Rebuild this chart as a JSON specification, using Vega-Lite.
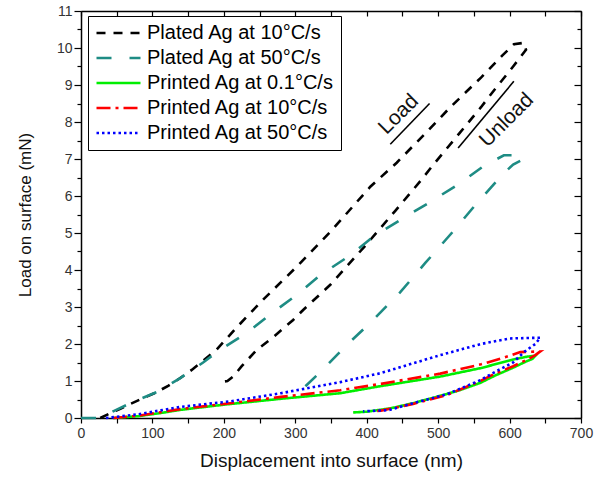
{
  "$schema": "https://vega.github.io/schema/vega-lite/v6.json",
  "width": 500,
  "height": 407,
  "autosize": {"type": "none"},
  "padding": {"left": 81, "top": 11, "right": 15, "bottom": 67},
  "config": {"font": "Liberation Sans", "view": {"stroke": null}},
  "datasets": {
    "curves": [
      {"s": "Plated Ag at 10°C/s", "i": 1, "x": 27, "y": 0},
      {"s": "Plated Ag at 10°C/s", "i": 2, "x": 40, "y": 0.12},
      {"s": "Plated Ag at 10°C/s", "i": 3, "x": 55, "y": 0.25},
      {"s": "Plated Ag at 10°C/s", "i": 4, "x": 69, "y": 0.38},
      {"s": "Plated Ag at 10°C/s", "i": 5, "x": 85, "y": 0.52},
      {"s": "Plated Ag at 10°C/s", "i": 6, "x": 106, "y": 0.7},
      {"s": "Plated Ag at 10°C/s", "i": 7, "x": 122, "y": 0.87},
      {"s": "Plated Ag at 10°C/s", "i": 8, "x": 139, "y": 1.08},
      {"s": "Plated Ag at 10°C/s", "i": 9, "x": 155, "y": 1.3},
      {"s": "Plated Ag at 10°C/s", "i": 10, "x": 171, "y": 1.55},
      {"s": "Plated Ag at 10°C/s", "i": 11, "x": 190, "y": 1.85},
      {"s": "Plated Ag at 10°C/s", "i": 12, "x": 218, "y": 2.45},
      {"s": "Plated Ag at 10°C/s", "i": 13, "x": 255, "y": 3.2},
      {"s": "Plated Ag at 10°C/s", "i": 14, "x": 300, "y": 4.05},
      {"s": "Plated Ag at 10°C/s", "i": 15, "x": 350, "y": 5.05},
      {"s": "Plated Ag at 10°C/s", "i": 16, "x": 405, "y": 6.25},
      {"s": "Plated Ag at 10°C/s", "i": 17, "x": 442, "y": 6.9},
      {"s": "Plated Ag at 10°C/s", "i": 18, "x": 480, "y": 7.65},
      {"s": "Plated Ag at 10°C/s", "i": 19, "x": 517, "y": 8.4},
      {"s": "Plated Ag at 10°C/s", "i": 20, "x": 560, "y": 9.2},
      {"s": "Plated Ag at 10°C/s", "i": 21, "x": 590, "y": 9.8},
      {"s": "Plated Ag at 10°C/s", "i": 22, "x": 606, "y": 10.1},
      {"s": "Plated Ag at 10°C/s", "i": 23, "x": 620, "y": 10.14},
      {"s": "Plated Ag at 10°C/s", "i": 24, "x": 623, "y": 9.95},
      {"s": "Plated Ag at 10°C/s", "i": 25, "x": 605, "y": 9.5},
      {"s": "Plated Ag at 10°C/s", "i": 26, "x": 580, "y": 8.9},
      {"s": "Plated Ag at 10°C/s", "i": 27, "x": 560, "y": 8.4},
      {"s": "Plated Ag at 10°C/s", "i": 28, "x": 530, "y": 7.7},
      {"s": "Plated Ag at 10°C/s", "i": 29, "x": 493, "y": 6.84},
      {"s": "Plated Ag at 10°C/s", "i": 30, "x": 475, "y": 6.4},
      {"s": "Plated Ag at 10°C/s", "i": 31, "x": 440, "y": 5.6},
      {"s": "Plated Ag at 10°C/s", "i": 32, "x": 400, "y": 4.7},
      {"s": "Plated Ag at 10°C/s", "i": 33, "x": 349, "y": 3.6},
      {"s": "Plated Ag at 10°C/s", "i": 34, "x": 311, "y": 2.92},
      {"s": "Plated Ag at 10°C/s", "i": 35, "x": 297, "y": 2.65},
      {"s": "Plated Ag at 10°C/s", "i": 36, "x": 270, "y": 2.2},
      {"s": "Plated Ag at 10°C/s", "i": 37, "x": 246, "y": 1.84},
      {"s": "Plated Ag at 10°C/s", "i": 38, "x": 225, "y": 1.4},
      {"s": "Plated Ag at 10°C/s", "i": 39, "x": 213, "y": 1.12},
      {"s": "Plated Ag at 10°C/s", "i": 40, "x": 205, "y": 1.0},
      {"s": "Plated Ag at 10°C/s", "i": 41, "x": 195, "y": 0.97},

      {"s": "Plated Ag at 50°C/s", "i": 1, "x": 0, "y": 0},
      {"s": "Plated Ag at 50°C/s", "i": 2, "x": 27, "y": 0},
      {"s": "Plated Ag at 50°C/s", "i": 3, "x": 45, "y": 0.18},
      {"s": "Plated Ag at 50°C/s", "i": 4, "x": 69, "y": 0.4},
      {"s": "Plated Ag at 50°C/s", "i": 5, "x": 106, "y": 0.7},
      {"s": "Plated Ag at 50°C/s", "i": 6, "x": 139, "y": 1.08},
      {"s": "Plated Ag at 50°C/s", "i": 7, "x": 171, "y": 1.5},
      {"s": "Plated Ag at 50°C/s", "i": 8, "x": 190, "y": 1.78},
      {"s": "Plated Ag at 50°C/s", "i": 9, "x": 232, "y": 2.3},
      {"s": "Plated Ag at 50°C/s", "i": 10, "x": 265, "y": 2.8},
      {"s": "Plated Ag at 50°C/s", "i": 11, "x": 300, "y": 3.3},
      {"s": "Plated Ag at 50°C/s", "i": 12, "x": 335, "y": 3.86},
      {"s": "Plated Ag at 50°C/s", "i": 13, "x": 377, "y": 4.4},
      {"s": "Plated Ag at 50°C/s", "i": 14, "x": 409, "y": 4.9},
      {"s": "Plated Ag at 50°C/s", "i": 15, "x": 451, "y": 5.4},
      {"s": "Plated Ag at 50°C/s", "i": 16, "x": 489, "y": 5.84},
      {"s": "Plated Ag at 50°C/s", "i": 17, "x": 531, "y": 6.35},
      {"s": "Plated Ag at 50°C/s", "i": 18, "x": 563, "y": 6.8},
      {"s": "Plated Ag at 50°C/s", "i": 19, "x": 592, "y": 7.1},
      {"s": "Plated Ag at 50°C/s", "i": 20, "x": 615, "y": 7.1},
      {"s": "Plated Ag at 50°C/s", "i": 21, "x": 620, "y": 7.0},
      {"s": "Plated Ag at 50°C/s", "i": 22, "x": 605, "y": 6.85},
      {"s": "Plated Ag at 50°C/s", "i": 23, "x": 591, "y": 6.6},
      {"s": "Plated Ag at 50°C/s", "i": 24, "x": 554, "y": 5.8},
      {"s": "Plated Ag at 50°C/s", "i": 25, "x": 519, "y": 5.0},
      {"s": "Plated Ag at 50°C/s", "i": 26, "x": 482, "y": 4.19},
      {"s": "Plated Ag at 50°C/s", "i": 27, "x": 447, "y": 3.4},
      {"s": "Plated Ag at 50°C/s", "i": 28, "x": 409, "y": 2.65},
      {"s": "Plated Ag at 50°C/s", "i": 29, "x": 372, "y": 1.97},
      {"s": "Plated Ag at 50°C/s", "i": 30, "x": 335, "y": 1.24},
      {"s": "Plated Ag at 50°C/s", "i": 31, "x": 312, "y": 0.82},
      {"s": "Plated Ag at 50°C/s", "i": 32, "x": 298, "y": 0.7},

      {"s": "Printed Ag at 0.1°C/s", "i": 1, "x": 45, "y": 0},
      {"s": "Printed Ag at 0.1°C/s", "i": 2, "x": 80, "y": 0.05},
      {"s": "Printed Ag at 0.1°C/s", "i": 3, "x": 110, "y": 0.13},
      {"s": "Printed Ag at 0.1°C/s", "i": 4, "x": 139, "y": 0.22},
      {"s": "Printed Ag at 0.1°C/s", "i": 5, "x": 200, "y": 0.36},
      {"s": "Printed Ag at 0.1°C/s", "i": 6, "x": 280, "y": 0.52},
      {"s": "Printed Ag at 0.1°C/s", "i": 7, "x": 363, "y": 0.67},
      {"s": "Printed Ag at 0.1°C/s", "i": 8, "x": 419, "y": 0.86},
      {"s": "Printed Ag at 0.1°C/s", "i": 9, "x": 503, "y": 1.12},
      {"s": "Printed Ag at 0.1°C/s", "i": 10, "x": 560, "y": 1.35},
      {"s": "Printed Ag at 0.1°C/s", "i": 11, "x": 605, "y": 1.58},
      {"s": "Printed Ag at 0.1°C/s", "i": 12, "x": 625, "y": 1.66},
      {"s": "Printed Ag at 0.1°C/s", "i": 13, "x": 636, "y": 1.68},
      {"s": "Printed Ag at 0.1°C/s", "i": 14, "x": 632, "y": 1.6},
      {"s": "Printed Ag at 0.1°C/s", "i": 15, "x": 620, "y": 1.5},
      {"s": "Printed Ag at 0.1°C/s", "i": 16, "x": 605, "y": 1.36},
      {"s": "Printed Ag at 0.1°C/s", "i": 17, "x": 580, "y": 1.15},
      {"s": "Printed Ag at 0.1°C/s", "i": 18, "x": 559, "y": 0.95},
      {"s": "Printed Ag at 0.1°C/s", "i": 19, "x": 530, "y": 0.75},
      {"s": "Printed Ag at 0.1°C/s", "i": 20, "x": 503, "y": 0.6},
      {"s": "Printed Ag at 0.1°C/s", "i": 21, "x": 465, "y": 0.4},
      {"s": "Printed Ag at 0.1°C/s", "i": 22, "x": 433, "y": 0.26},
      {"s": "Printed Ag at 0.1°C/s", "i": 23, "x": 400, "y": 0.17},
      {"s": "Printed Ag at 0.1°C/s", "i": 24, "x": 381, "y": 0.15},

      {"s": "Printed Ag at 10°C/s", "i": 1, "x": 45, "y": 0},
      {"s": "Printed Ag at 10°C/s", "i": 2, "x": 80, "y": 0.06},
      {"s": "Printed Ag at 10°C/s", "i": 3, "x": 139, "y": 0.24},
      {"s": "Printed Ag at 10°C/s", "i": 4, "x": 200, "y": 0.38},
      {"s": "Printed Ag at 10°C/s", "i": 5, "x": 280, "y": 0.57},
      {"s": "Printed Ag at 10°C/s", "i": 6, "x": 363, "y": 0.75},
      {"s": "Printed Ag at 10°C/s", "i": 7, "x": 419, "y": 0.92},
      {"s": "Printed Ag at 10°C/s", "i": 8, "x": 503, "y": 1.2},
      {"s": "Printed Ag at 10°C/s", "i": 9, "x": 560, "y": 1.45},
      {"s": "Printed Ag at 10°C/s", "i": 10, "x": 600, "y": 1.68},
      {"s": "Printed Ag at 10°C/s", "i": 11, "x": 615, "y": 1.78},
      {"s": "Printed Ag at 10°C/s", "i": 12, "x": 643, "y": 1.8},
      {"s": "Printed Ag at 10°C/s", "i": 13, "x": 636, "y": 1.7},
      {"s": "Printed Ag at 10°C/s", "i": 14, "x": 624, "y": 1.57},
      {"s": "Printed Ag at 10°C/s", "i": 15, "x": 605, "y": 1.4},
      {"s": "Printed Ag at 10°C/s", "i": 16, "x": 580, "y": 1.2},
      {"s": "Printed Ag at 10°C/s", "i": 17, "x": 559, "y": 1.0},
      {"s": "Printed Ag at 10°C/s", "i": 18, "x": 512, "y": 0.62},
      {"s": "Printed Ag at 10°C/s", "i": 19, "x": 465, "y": 0.38},
      {"s": "Printed Ag at 10°C/s", "i": 20, "x": 420, "y": 0.2},
      {"s": "Printed Ag at 10°C/s", "i": 21, "x": 410, "y": 0.18},

      {"s": "Printed Ag at 50°C/s", "i": 1, "x": 35, "y": 0},
      {"s": "Printed Ag at 50°C/s", "i": 2, "x": 80, "y": 0.1},
      {"s": "Printed Ag at 50°C/s", "i": 3, "x": 139, "y": 0.3},
      {"s": "Printed Ag at 50°C/s", "i": 4, "x": 209, "y": 0.45},
      {"s": "Printed Ag at 50°C/s", "i": 5, "x": 280, "y": 0.67},
      {"s": "Printed Ag at 50°C/s", "i": 6, "x": 363, "y": 0.97},
      {"s": "Printed Ag at 50°C/s", "i": 7, "x": 419, "y": 1.21},
      {"s": "Printed Ag at 50°C/s", "i": 8, "x": 503, "y": 1.7},
      {"s": "Printed Ag at 50°C/s", "i": 9, "x": 560, "y": 2.0},
      {"s": "Printed Ag at 50°C/s", "i": 10, "x": 600, "y": 2.15},
      {"s": "Printed Ag at 50°C/s", "i": 11, "x": 643, "y": 2.17},
      {"s": "Printed Ag at 50°C/s", "i": 12, "x": 636, "y": 2.0},
      {"s": "Printed Ag at 50°C/s", "i": 13, "x": 620, "y": 1.78},
      {"s": "Printed Ag at 50°C/s", "i": 14, "x": 605, "y": 1.5},
      {"s": "Printed Ag at 50°C/s", "i": 15, "x": 580, "y": 1.25},
      {"s": "Printed Ag at 50°C/s", "i": 16, "x": 559, "y": 1.02},
      {"s": "Printed Ag at 50°C/s", "i": 17, "x": 512, "y": 0.64},
      {"s": "Printed Ag at 50°C/s", "i": 18, "x": 465, "y": 0.4},
      {"s": "Printed Ag at 50°C/s", "i": 19, "x": 430, "y": 0.21},
      {"s": "Printed Ag at 50°C/s", "i": 20, "x": 395, "y": 0.18}
    ],
    "arrows": [
      {"x": 433, "y": 7.4, "x2": 488, "y2": 8.5},
      {"x": 528, "y": 7.3, "x2": 606, "y2": 9.1}
    ],
    "labels": [
      {"x": 445, "y": 8.2, "t": "Load"},
      {"x": 596, "y": 8.05, "t": "Unload"}
    ]
  },
  "layer": [
    {
      "data": {"name": "curves"},
      "mark": {"type": "line", "strokeWidth": 2.6, "strokeCap": "butt"},
      "encoding": {
        "x": {
          "field": "x", "type": "quantitative",
          "scale": {"domain": [0, 700], "nice": false, "zero": false},
          "axis": {
            "orient": "bottom",
            "values": [0, 50, 100, 150, 200, 250, 300, 350, 400, 450, 500, 550, 600, 650, 700],
            "labelExpr": "datum.value % 100 === 0 ? format(datum.value, 'd') : ''",
            "title": "Displacement into surface (nm)",
            "titleFontSize": 19, "titleFontWeight": "normal", "titleColor": "#111",
            "labelFontSize": 14, "labelColor": "#333", "labelPadding": 3,
            "tickSize": 5, "tickColor": "black", "tickWidth": 1.2,
            "domainColor": "black", "domainWidth": 1.5,
            "grid": false, "titlePadding": 11, "labelFlush": false
          }
        },
        "y": {
          "field": "y", "type": "quantitative",
          "scale": {"domain": [0, 11], "nice": false, "zero": false},
          "axis": {
            "orient": "left",
            "values": [0, 0.5, 1, 1.5, 2, 2.5, 3, 3.5, 4, 4.5, 5, 5.5, 6, 6.5, 7, 7.5, 8, 8.5, 9, 9.5, 10, 10.5, 11],
            "labelExpr": "datum.value % 1 === 0 ? format(datum.value, 'd') : ''",
            "title": "Load on surface (mN)",
            "titleFontSize": 17, "titleFontWeight": "normal", "titleColor": "#111",
            "labelFontSize": 14, "labelColor": "#333", "labelPadding": 2,
            "tickSize": {"condition": {"test": "datum.value % 1 === 0", "value": 7}, "value": 4},
            "tickColor": "black", "tickWidth": 1.2,
            "domainColor": "black", "domainWidth": 1.5,
            "grid": false, "titlePadding": 22, "labelFlush": false
          }
        },
        "color": {
          "field": "s", "type": "nominal",
          "scale": {
            "domain": ["Plated Ag at 10°C/s", "Plated Ag at 50°C/s", "Printed Ag at 0.1°C/s", "Printed Ag at 10°C/s", "Printed Ag at 50°C/s"],
            "range": ["#000000", "#1e8c84", "#00ee00", "#ff0000", "#0000ff"]
          },
          "legend": {
            "title": null, "orient": "none", "legendX": 7, "legendY": 5,
            "strokeColor": "black", "fillColor": "white", "padding": 7,
            "symbolType": "stroke", "symbolSize": 1936, "symbolStrokeWidth": 2.6,
            "clipHeight": 20, "rowPadding": 5, "labelFontSize": 20, "labelColor": "black",
            "labelOffset": 5, "labelLimit": 300
          }
        },
        "strokeDash": {
          "field": "s", "type": "nominal",
          "scale": {
            "domain": ["Plated Ag at 10°C/s", "Plated Ag at 50°C/s", "Printed Ag at 0.1°C/s", "Printed Ag at 10°C/s", "Printed Ag at 50°C/s"],
            "range": [[9, 8], [15, 18], [1, 0], [14, 5, 3, 5], [2.5, 3]]
          },
          "legend": {
            "title": null, "orient": "none", "legendX": 7, "legendY": 5,
            "strokeColor": "black", "fillColor": "white", "padding": 7,
            "symbolType": "stroke", "symbolSize": 1936, "symbolStrokeWidth": 2.6,
            "clipHeight": 20, "rowPadding": 5, "labelFontSize": 20, "labelColor": "black",
            "labelOffset": 5, "labelLimit": 300
          }
        },
        "detail": {"field": "s"},
        "order": {"field": "i", "type": "quantitative"}
      }
    },
    {
      "data": {"name": "arrows"},
      "mark": {"type": "rule", "color": "black", "strokeWidth": 1.6},
      "encoding": {
        "x": {
          "field": "x", "type": "quantitative",
          "axis": {
            "orient": "top", "values": [0, 50, 100, 150, 200, 250, 300, 350, 400, 450, 500, 550, 600, 650, 700],
            "labels": false, "title": null, "tickSize": -5, "tickColor": "black", "tickWidth": 1.2,
            "domainColor": "black", "domainWidth": 1.5, "grid": false
          }
        },
        "y": {
          "field": "y", "type": "quantitative",
          "axis": {
            "orient": "right", "values": [0, 0.5, 1, 1.5, 2, 2.5, 3, 3.5, 4, 4.5, 5, 5.5, 6, 6.5, 7, 7.5, 8, 8.5, 9, 9.5, 10, 10.5, 11],
            "labels": false, "title": null,
            "tickSize": {"condition": {"test": "datum.value % 1 === 0", "value": -7}, "value": -4},
            "tickColor": "black", "tickWidth": 1.2,
            "domainColor": "black", "domainWidth": 1.5, "grid": false
          }
        },
        "x2": {"field": "x2"},
        "y2": {"field": "y2"}
      }
    },
    {
      "data": {"name": "labels"},
      "mark": {"type": "text", "angle": -45, "fontSize": 21, "color": "#111", "align": "center", "baseline": "middle"},
      "encoding": {
        "x": {"field": "x", "type": "quantitative", "axis": null},
        "y": {"field": "y", "type": "quantitative", "axis": null},
        "text": {"field": "t"}
      }
    }
  ],
  "resolve": {"axis": {"x": "independent", "y": "independent"}}
}
